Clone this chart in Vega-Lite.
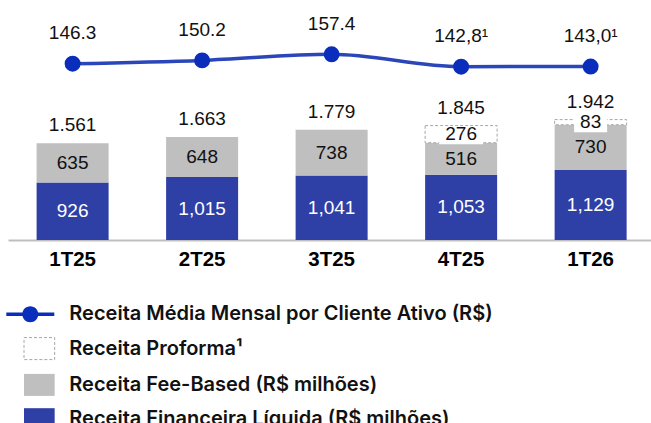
{
  "$schema": "https://vega.github.io/schema/vega-lite/v6.json",
  "width": 643,
  "height": 240,
  "autosize": {"type": "none"},
  "padding": {"left": 8, "top": 0, "right": 0, "bottom": 183},
  "background": "white",
  "config": {
    "view": {"stroke": null},
    "text": {"font": "Liberation Sans", "fontSize": 19}
  },
  "datasets": {
    "bars": [
      {"q": "1T25", "serie": "Receita Financeira Líquida (R$ milhões)", "value": 926, "label": "926"},
      {"q": "1T25", "serie": "Receita Fee-Based (R$ milhões)", "value": 635, "label": "635"},
      {"q": "2T25", "serie": "Receita Financeira Líquida (R$ milhões)", "value": 1015, "label": "1,015"},
      {"q": "2T25", "serie": "Receita Fee-Based (R$ milhões)", "value": 648, "label": "648"},
      {"q": "3T25", "serie": "Receita Financeira Líquida (R$ milhões)", "value": 1041, "label": "1,041"},
      {"q": "3T25", "serie": "Receita Fee-Based (R$ milhões)", "value": 738, "label": "738"},
      {"q": "4T25", "serie": "Receita Financeira Líquida (R$ milhões)", "value": 1053, "label": "1,053"},
      {"q": "4T25", "serie": "Receita Fee-Based (R$ milhões)", "value": 516, "label": "516"},
      {"q": "4T25", "serie": "Receita Proforma¹", "value": 276, "label": "276"},
      {"q": "1T26", "serie": "Receita Financeira Líquida (R$ milhões)", "value": 1129, "label": "1,129"},
      {"q": "1T26", "serie": "Receita Fee-Based (R$ milhões)", "value": 730, "label": "730"},
      {"q": "1T26", "serie": "Receita Proforma¹", "value": 83, "label": "83"}
    ],
    "totals": [
      {"q": "1T25", "total": 1561, "label": "1.561"},
      {"q": "2T25", "total": 1663, "label": "1.663"},
      {"q": "3T25", "total": 1779, "label": "1.779"},
      {"q": "4T25", "total": 1845, "label": "1.845"},
      {"q": "1T26", "total": 1942, "label": "1.942"}
    ],
    "line": [
      {"q": "1T25", "receita": 146.3, "label": "146.3"},
      {"q": "2T25", "receita": 150.2, "label": "150.2"},
      {"q": "3T25", "receita": 157.4, "label": "157.4"},
      {"q": "4T25", "receita": 142.8, "label": "142,8¹"},
      {"q": "1T26", "receita": 143.0, "label": "143,0¹"}
    ]
  },
  "layer": [
    {
      "data": {"name": "bars"},
      "transform": [
        {"calculate": "indexof(['Receita Financeira Líquida (R$ milhões)','Receita Fee-Based (R$ milhões)','Receita Proforma¹'], datum.serie)", "as": "ord"},
        {"stack": "value", "groupby": ["q"], "sort": [{"field": "ord", "order": "ascending"}], "as": ["v0", "v1"]},
        {"filter": "datum.serie !== 'Receita Proforma¹'"}
      ],
      "mark": {"type": "bar"},
      "encoding": {
        "x": {
          "field": "q", "type": "nominal",
          "scale": {"domain": ["1T25", "2T25", "3T25", "4T25", "1T26"], "paddingInner": 0.444, "paddingOuter": 0.2045, "align": 0.54},
          "axis": {
            "title": null, "domainColor": "#BFBFBF", "domainWidth": 2, "ticks": false,
            "labelFont": "Liberation Sans", "labelFontSize": 20.5, "labelFontWeight": "bold",
            "labelColor": "#000000", "labelAngle": 0, "labelPadding": 19.5, "labelBaseline": "middle"
          }
        },
        "y": {"field": "v1", "type": "quantitative", "scale": {"domain": [0, 3871], "nice": false, "zero": true}, "axis": null},
        "y2": {"field": "v0"},
        "color": {
          "field": "serie", "type": "nominal",
          "scale": {
            "domain": ["Receita Média Mensal por Cliente Ativo (R$)", "Receita Proforma¹", "Receita Fee-Based (R$ milhões)", "Receita Financeira Líquida (R$ milhões)"],
            "range": ["#0A2EBB", "#FFFFFF", "#BFBFBF", "#2E3FA6"]
          },
          "legend": {
            "title": null, "orient": "none", "legendX": 0, "legendY": 304.3, "direction": "vertical",
            "padding": 0, "symbolSize": 576, "symbolOffset": 12.3, "labelOffset": 29, "rowPadding": 10.3,
            "labelFont": "Inter", "labelFontSize": 20, "labelFontWeight": 600, "labelColor": "#111111", "labelLimit": 0,
            "encode": {
              "symbols": {
                "update": {
                  "shape": {"signal": "datum.value === 'Receita Média Mensal por Cliente Ativo (R$)' ? 'M-2,-0.15L2,-0.15L2,0.15L-2,0.15Z M-0.667,0A0.667,0.667,0,1,1,0.667,0A0.667,0.667,0,1,1,-0.667,0Z' : 'M-0.525,-0.917L2.03,-0.917L2.03,0.917L-0.525,0.917Z'"},
                  "stroke": {"signal": "datum.value === 'Receita Proforma¹' ? '#A6A6A6' : null"},
                  "strokeWidth": {"signal": "datum.value === 'Receita Proforma¹' ? 1 : 0"},
                  "strokeDash": {"signal": "datum.value === 'Receita Proforma¹' ? [3,2] : [1,0]"},
                  "opacity": {"value": 1},
                  "fillOpacity": {"value": 1}
                }
              }
            }
          }
        }
      }
    },
    {
      "data": {"name": "bars"},
      "transform": [
        {"calculate": "indexof(['Receita Financeira Líquida (R$ milhões)','Receita Fee-Based (R$ milhões)','Receita Proforma¹'], datum.serie)", "as": "ord"},
        {"stack": "value", "groupby": ["q"], "sort": [{"field": "ord", "order": "ascending"}], "as": ["v0", "v1"]},
        {"filter": "datum.serie === 'Receita Proforma¹'"}
      ],
      "mark": {"type": "bar", "fill": "#FFFFFF", "stroke": "#A6A6A6", "strokeWidth": 1, "strokeDash": [3, 2]},
      "encoding": {
        "x": {"field": "q", "type": "nominal"},
        "y": {"field": "v1", "type": "quantitative", "scale": {"domain": [0, 3871], "nice": false, "zero": true}, "axis": null},
        "y2": {"field": "v0"}
      }
    },
    {
      "data": {"name": "bars"},
      "transform": [
        {"calculate": "indexof(['Receita Financeira Líquida (R$ milhões)','Receita Fee-Based (R$ milhões)','Receita Proforma¹'], datum.serie)", "as": "ord"},
        {"stack": "value", "groupby": ["q"], "sort": [{"field": "ord", "order": "ascending"}], "as": ["v0", "v1"]},
        {"calculate": "(datum.v0 + datum.v1) / 2", "as": "mid"},
        {"filter": "datum.serie === 'Receita Proforma¹'"}
      ],
      "mark": {"type": "point", "filled": true, "fill": "#FFFFFF", "opacity": 1, "strokeWidth": 0, "size": 400},
      "encoding": {
        "x": {"field": "q", "type": "nominal"},
        "y": {"field": "mid", "type": "quantitative", "scale": {"domain": [0, 3871], "nice": false, "zero": true}, "axis": null},
        "shape": {
          "condition": {"test": "length(datum.label) > 2", "value": "M-2.2,-0.8L2.2,-0.8L2.2,1L-2.2,1Z"},
          "value": "M-1.65,-1L1.65,-1L1.65,1L-1.65,1Z"
        }
      }
    },
    {
      "data": {"name": "bars"},
      "transform": [
        {"calculate": "indexof(['Receita Financeira Líquida (R$ milhões)','Receita Fee-Based (R$ milhões)','Receita Proforma¹'], datum.serie)", "as": "ord"},
        {"stack": "value", "groupby": ["q"], "sort": [{"field": "ord", "order": "ascending"}], "as": ["v0", "v1"]},
        {"calculate": "(datum.v0 + datum.v1) / 2", "as": "mid"}
      ],
      "mark": {"type": "text", "baseline": "middle", "align": "center"},
      "encoding": {
        "x": {"field": "q", "type": "nominal"},
        "y": {"field": "mid", "type": "quantitative", "scale": {"domain": [0, 3871], "nice": false, "zero": true}, "axis": null},
        "text": {"field": "label"},
        "color": {
          "condition": {"test": "datum.serie === 'Receita Financeira Líquida (R$ milhões)'", "value": "#FFFFFF"},
          "value": "#111111"
        }
      }
    },
    {
      "data": {"name": "totals"},
      "mark": {"type": "text", "baseline": "middle", "align": "center", "dy": -18, "color": "#111111"},
      "encoding": {
        "x": {"field": "q", "type": "nominal"},
        "y": {"field": "total", "type": "quantitative", "scale": {"domain": [0, 3871], "nice": false, "zero": true}, "axis": null},
        "text": {"field": "label"}
      }
    },
    {
      "data": {"name": "line"},
      "mark": {"type": "line", "interpolate": "monotone", "color": "#2A46B8", "strokeWidth": 3.5},
      "encoding": {
        "x": {"field": "q", "type": "nominal"},
        "y": {"field": "receita", "type": "quantitative", "scale": {"domain": [-61.1, 221.25], "nice": false, "zero": false}, "axis": null}
      }
    },
    {
      "data": {"name": "line"},
      "mark": {"type": "point", "filled": true, "color": "#0A2EBB", "opacity": 1, "size": 254},
      "encoding": {
        "x": {"field": "q", "type": "nominal"},
        "y": {"field": "receita", "type": "quantitative", "scale": {"domain": [-61.1, 221.25], "nice": false, "zero": false}, "axis": null}
      }
    },
    {
      "data": {"name": "line"},
      "mark": {"type": "text", "baseline": "middle", "align": "center", "dy": -30.5, "color": "#111111"},
      "encoding": {
        "x": {"field": "q", "type": "nominal"},
        "y": {"field": "receita", "type": "quantitative", "scale": {"domain": [-61.1, 221.25], "nice": false, "zero": false}, "axis": null},
        "text": {"field": "label"}
      }
    }
  ],
  "resolve": {"scale": {"y": "independent"}}
}
